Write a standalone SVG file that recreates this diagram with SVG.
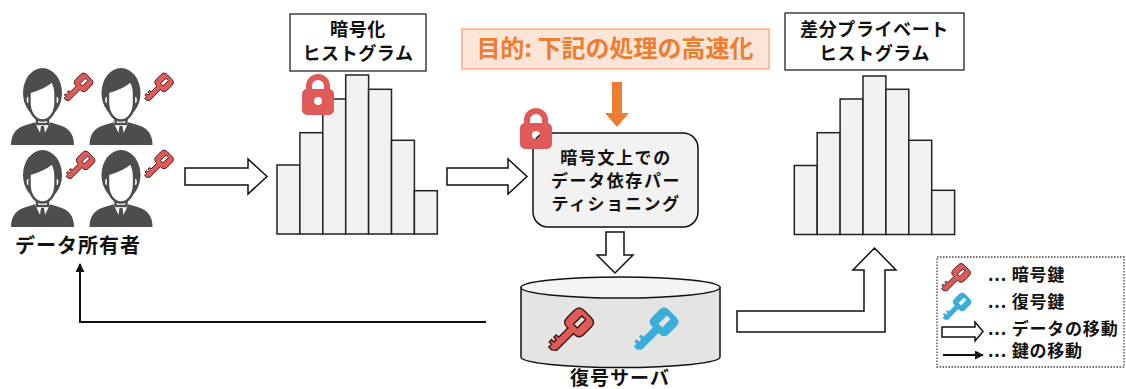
<svg xmlns="http://www.w3.org/2000/svg" xmlns:xlink="http://www.w3.org/1999/xlink" width="1126" height="389" viewBox="0 0 1126 389">
  <style>
    text { font-family: "Noto Sans CJK JP", "Noto Sans", sans-serif; font-weight: 700; fill: #111; }
    .t18 { font-size: 18px; letter-spacing: 0.6px; }
    .t17 { font-size: 17px; letter-spacing: 1.6px; }
    .leg { font-size: 17px; letter-spacing: 0.8px; }
    .t20 { font-size: 20px; letter-spacing: 1px; }
    .goal { font-size: 24px; fill: #ED7D31; }
    .bar { fill: #F2F2F2; stroke: #222; stroke-width: 1.5; }
    .box { fill: #fff; stroke: #222; stroke-width: 1.3; }
    .block { fill: #fff; stroke: #111; stroke-width: 1.5; stroke-linejoin: miter; }
    .wire { fill: none; stroke: #111; stroke-width: 2; }
    .ink { fill: #4D4D4D; }
    .skin { fill: #fff; stroke: #4D4D4D; stroke-width: 2.4; }
    .lock { fill: #E05A5A; fill-rule: evenodd; }
  </style>
  <defs>
    <!-- businessman silhouette, 65 x 77 -->
    <g id="person">
      <path class="ink" d="M1,77 C1,66 6,60 16,57 L26,54 H39 L49,57 C59,60 64,66 64,77 Z"/>
      <path fill="#fff" d="M25,54.5 L32.5,70 L40,54.5 L37,53 H28 Z"/>
      <path class="ink" d="M31,58 H34 L35.5,68 L32.5,71 L29.5,68 Z"/>
      <rect class="skin" x="27" y="44" width="11" height="12"/>
      <ellipse class="ink" cx="32.5" cy="25" rx="19.5" ry="25"/>
      <ellipse class="skin" cx="18.5" cy="32" rx="3" ry="4.5"/>
      <ellipse class="skin" cx="46.5" cy="32" rx="3" ry="4.5"/>
      <path class="skin" d="M19.5,24 C27,22 36,19 42,13 C45.5,18 45.5,22 45.5,26 V34 C45.5,46 39,52.5 32.5,52.5 C26,52.5 19.5,46 19.5,34 Z"/>
    </g>
    <!-- key centred on the origin, head top-right, shaft bottom-left -->
    <path id="key-shape" transform="translate(-3,3) scale(0.85) rotate(45)" fill-rule="evenodd"
          d="M-9,-15 Q-9,-20 -4,-20 H4 Q9,-20 9,-15 V-7 Q9,-2 4,-2 H3 V16 L0,18.5 H-3 V15.5 H-5.5 V13 H-3 V10.5 H-5.5 V8 H-3 V-2 H-4 Q-9,-2 -9,-7 Z M-2,-16 H2 V-7 H-2 Z"/>
    <use id="key-red" xlink:href="#key-shape" href="#key-shape" fill="#E05A5A" stroke="#3a1a1a" stroke-width="1.1"/>
    <use id="key-blue" xlink:href="#key-shape" href="#key-shape" fill="#3AAED8"/>
    <!-- padlock, 32 x 41 -->
    <g id="padlock">
      <path class="lock" d="M4,16 V12 A12,12 0 0 1 28,12 V16 H22 V12 A6,6 0 0 0 10,12 V16 Z"/>
      <path class="lock" d="M5,15 H27 A5,5 0 0 1 32,20 V36 A5,5 0 0 1 27,41 H5 A5,5 0 0 1 0,36 V20 A5,5 0 0 1 5,15 Z M16,23 A4,4 0 1 0 16,31 A4,4 0 1 0 16,23 Z"/>
    </g>
    <marker id="head" viewBox="0 0 10 10" refX="9" refY="5" markerWidth="4.5" markerHeight="4.5" orient="auto">
      <path d="M0,0 L10,5 L0,10 Z" fill="#111"/>
    </marker>
  </defs>

  <!-- data owners -->
  <g id="owners">
    <use xlink:href="#person" href="#person" x="10" y="68"/>
    <use xlink:href="#person" href="#person" x="88.5" y="68"/>
    <use xlink:href="#person" href="#person" x="10" y="150"/>
    <use xlink:href="#person" href="#person" x="88.5" y="150"/>
    <use xlink:href="#key-red" href="#key-red" transform="translate(80,86)"/>
    <use xlink:href="#key-red" href="#key-red" transform="translate(160.5,86)"/>
    <use xlink:href="#key-red" href="#key-red" transform="translate(82,164)"/>
    <use xlink:href="#key-red" href="#key-red" transform="translate(160.5,163)"/>
    <text class="t20" x="78" y="253" text-anchor="middle">データ所有者</text>
  </g>

  <!-- encrypted histogram -->
  <g id="enc-hist">
    <rect class="box" x="290" y="14" width="136" height="57"/>
    <text class="t18" x="358" y="36" text-anchor="middle">暗号化</text>
    <text class="t18" x="358" y="60" text-anchor="middle">ヒストグラム</text>
    <rect class="bar" x="277" y="165" width="22.9" height="69"/>
    <rect class="bar" x="299.9" y="132.7" width="22.9" height="101.3"/>
    <rect class="bar" x="322.8" y="99" width="22.9" height="135"/>
    <rect class="bar" x="345.7" y="75" width="22.9" height="159"/>
    <rect class="bar" x="368.6" y="89.3" width="22.9" height="144.7"/>
    <rect class="bar" x="391.5" y="140.3" width="22.9" height="93.7"/>
    <rect class="bar" x="414.4" y="190.7" width="22.9" height="43.3"/>
    <use xlink:href="#padlock" href="#padlock" x="302" y="74"/>
  </g>

  <!-- goal banner -->
  <g id="goal">
    <rect x="462" y="29" width="307" height="40" fill="#FCE4D6" stroke="#F4B183" stroke-width="1.5"/>
    <text class="goal" x="615" y="57" text-anchor="middle">目的: 下記の処理の高速化</text>
    <path d="M612,82 H622 V113 H629 L617,127 L605,113 H612 Z" fill="#ED7D31"/>
  </g>

  <!-- partitioning step -->
  <g id="partition">
    <rect x="533" y="133" width="165" height="94" rx="15" fill="#F2F2F2" stroke="#111" stroke-width="1.5"/>
    <text class="t17" x="616" y="163.5" text-anchor="middle">暗号文上での</text>
    <text class="t17" x="616" y="186.5" text-anchor="middle">データ依存パー</text>
    <text class="t17" x="616" y="209.5" text-anchor="middle">ティショニング</text>
    <use xlink:href="#padlock" href="#padlock" x="520" y="108"/>
  </g>

  <!-- decryption server -->
  <g id="server">
    <path d="M521,287.5 V357 A99.5,10.5 0 0 0 720,357 V287.5 Z" fill="#E4E4E4" stroke="#111" stroke-width="1.5"/>
    <ellipse cx="620.5" cy="287.5" rx="99.5" ry="10.5" fill="#F4F4F4" stroke="#111" stroke-width="1.5"/>
    <use xlink:href="#key-red" href="#key-red" transform="translate(573.5,328) scale(1.55)"/>
    <use xlink:href="#key-blue" href="#key-blue" transform="translate(658.5,327.5) scale(1.55)"/>
    <text class="t20" x="620" y="385" text-anchor="middle" style="font-size:19px">復号サーバ</text>
  </g>

  <!-- differentially private histogram -->
  <g id="dp-hist">
    <rect class="box" x="785" y="13" width="179" height="57"/>
    <text class="t18" x="874.5" y="36" text-anchor="middle">差分プライベート</text>
    <text class="t18" x="874.5" y="60" text-anchor="middle">ヒストグラム</text>
    <rect class="bar" x="794.3" y="165.5" width="22.9" height="69"/>
    <rect class="bar" x="817.2" y="132.7" width="22.9" height="101.8"/>
    <rect class="bar" x="840.1" y="99" width="22.9" height="135.5"/>
    <rect class="bar" x="863" y="76" width="22.9" height="158.5"/>
    <rect class="bar" x="885.9" y="89.3" width="22.9" height="145.2"/>
    <rect class="bar" x="908.8" y="140.3" width="22.9" height="94.2"/>
    <rect class="bar" x="931.7" y="190.3" width="22.9" height="44.2"/>
  </g>

  <!-- connectors -->
  <g id="connectors">
    <path class="block" d="M185,168 H248 V159 L267,176.5 L248,194 V185 H185 Z"/>
    <path class="block" d="M447,168 H508 V159 L527,176.5 L508,194 V185 H447 Z"/>
    <path class="block" d="M606,232 H624 V255 H633 L615,273 L597,255 H606 Z"/>
    <path class="block" d="M737,311 H864 V270 H853 L874.5,248 L896,270 H885 V332 H737 Z"/>
    <path class="wire" d="M486,322 H80 V264" marker-end="url(#head)"/>
  </g>

  <!-- legend -->
  <g id="legend">
    <rect x="937" y="257" width="187" height="110" fill="none" stroke="#444" stroke-width="1.3" stroke-dasharray="1.5 1.5"/>
    <use xlink:href="#key-red" href="#key-red" transform="translate(957.5,276.5)"/>
    <text class="leg" x="988" y="281">... 暗号鍵</text>
    <use xlink:href="#key-blue" href="#key-blue" transform="translate(958.5,305.5)"/>
    <text class="leg" x="988" y="308">... 復号鍵</text>
    <path class="block" d="M942,327 H975 V322 L983,331.5 L975,341 V337 H942 Z" stroke-width="1.2"/>
    <text class="leg" x="988" y="334.5">... データの移動</text>
    <path class="wire" d="M943,355 H983" marker-end="url(#head)"/>
    <text class="leg" x="988" y="357">... 鍵の移動</text>
  </g>
</svg>
